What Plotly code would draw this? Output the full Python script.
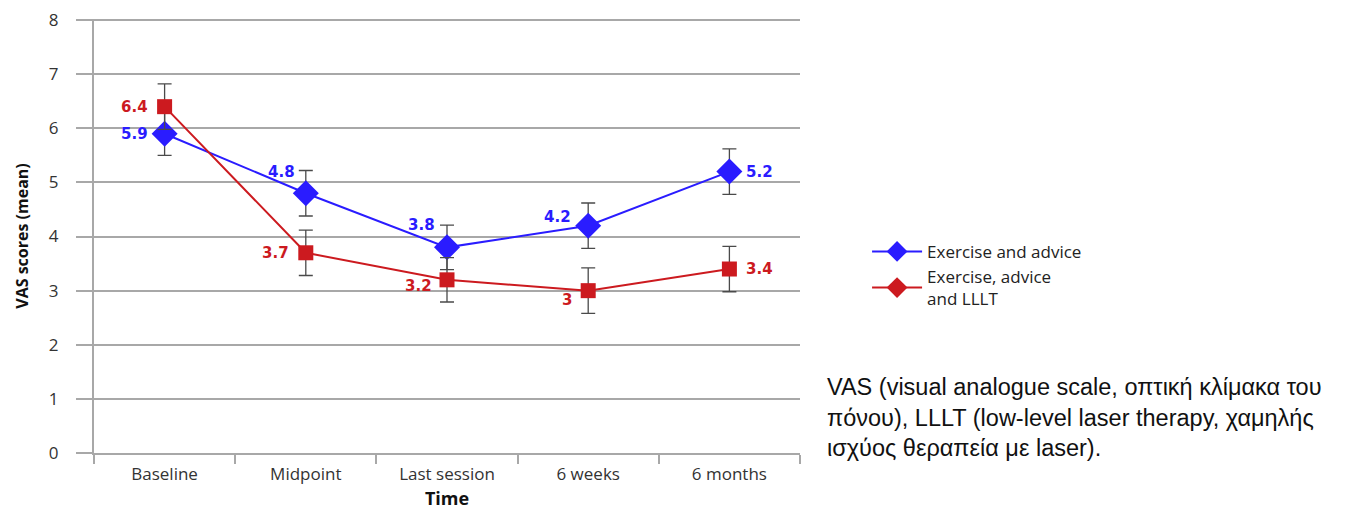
import plotly.graph_objects as go

categories = ["Baseline", "Midpoint", "Last session", "6 weeks", "6 months"]
exercise_advice = [5.9, 4.8, 3.8, 4.2, 5.2]
exercise_advice_err = [0.4, 0.42, 0.41, 0.42, 0.42]
exercise_advice_lllt = [6.4, 3.7, 3.2, 3.0, 3.4]
exercise_advice_lllt_err = [0.42, 0.42, 0.41, 0.42, 0.42]
blue_labels = ["5.9", "4.8", "3.8", "4.2", "5.2"]
red_labels = ["6.4", "3.7", "3.2", "3", "3.4"]
y_ticks = [0, 1, 2, 3, 4, 5, 6, 7, 8]
legend_names = ["Exercise and advice", "Exercise, advice<br>and LLLT"]
footnote = ("VAS (visual analogue scale, οπτική κλίμακα του<br>"
            "πόνου), LLLT (low-level laser therapy, χαμηλής<br>"
            "ισχύος θεραπεία με laser).")

BLUE = "#2a1cff"
RED = "#cc1a1f"
ERR = "#4a4a4a"

fig = go.Figure()
fig.add_trace(go.Scatter(
    x=categories, y=exercise_advice, mode="lines+markers",
    line=dict(color=BLUE, width=2),
    marker=dict(symbol="diamond", size=20, color=BLUE),
    error_y=dict(type="data", array=exercise_advice_err, color=ERR, thickness=1.3, width=7),
    showlegend=False))
fig.add_trace(go.Scatter(
    x=categories, y=exercise_advice_lllt, mode="lines+markers",
    line=dict(color=RED, width=2),
    marker=dict(symbol="square", size=15, color=RED),
    error_y=dict(type="data", array=exercise_advice_lllt_err, color=ERR, thickness=1.3, width=7),
    showlegend=False))
# legend proxies (diamonds for both series, as in the original legend)
for name, col in zip(legend_names, [BLUE, RED]):
    fig.add_trace(go.Scatter(
        x=[None], y=[None], mode="lines+markers", name=name,
        line=dict(color=col, width=2),
        marker=dict(symbol="diamond", size=17, color=col)))

# value labels (anchor, xshift, yshift)
blue_pos = [("right", -15, 0), ("right", -9, 21), ("right", -10, 22), ("right", -15, 9), ("left", 15, 0)]
red_pos = [("right", -15, 0), ("right", -15, 0), ("right", -13, -6), ("right", -14, -9), ("left", 15, 0)]
for vals, labels, pos, col in [(exercise_advice, blue_labels, blue_pos, BLUE),
                               (exercise_advice_lllt, red_labels, red_pos, RED)]:
    for c, v, t, (anc, xs, ys) in zip(categories, vals, labels, pos):
        fig.add_annotation(x=c, y=v, text="<b>%s</b>" % t, showarrow=False,
                           xanchor=anc, yanchor="middle", xshift=xs, yshift=ys,
                           font=dict(family="DejaVu Sans", size=15, color=col))

fig.add_annotation(xref="paper", yref="paper", x=1.036, y=0.187, xanchor="left", yanchor="top",
                   text=footnote, showarrow=False, align="left",
                   font=dict(family="Liberation Sans, Arial", size=23.5, color="#111111"))

fig.update_layout(
    width=1350, height=510,
    margin=dict(l=86, r=558, t=11, b=65),
    paper_bgcolor="white", plot_bgcolor="white",
    font=dict(family="Open Sans", size=16, color="#333333"),
    legend=dict(x=1.095, y=0.505, xanchor="left", yanchor="top",
                font=dict(family="Open Sans", size=17, color="#222222"),
                itemwidth=50, tracegroupgap=6, bgcolor="rgba(0,0,0,0)"),
)
fig.update_yaxes(range=[0, 8.02], tickvals=y_ticks, showgrid=True, gridcolor="#a8a8a8", gridwidth=2,
                 showline=True, linecolor="#a8a8a8", linewidth=2, automargin=False,
                 ticks="outside", ticklen=16, tickcolor="#a8a8a8", tickwidth=2,
                 ticklabelstandoff=14, zeroline=False, tickfont=dict(size=17),
                 title=dict(text="<b>VAS scores (mean)</b>", font=dict(size=16, color="#111111"), standoff=16))
fig.update_xaxes(range=[-0.5, 4.5], showgrid=False, showline=True, linecolor="#a8a8a8", linewidth=2,
                 ticks="outside", tickson="boundaries", ticklen=9, tickcolor="#a8a8a8", tickwidth=2,
                 automargin=False, ticklabelstandoff=5, tickfont=dict(size=17),
                 title=dict(text="<b>Time</b>", font=dict(size=18, color="#111111"), standoff=8))

fig.write_html("out.html")
